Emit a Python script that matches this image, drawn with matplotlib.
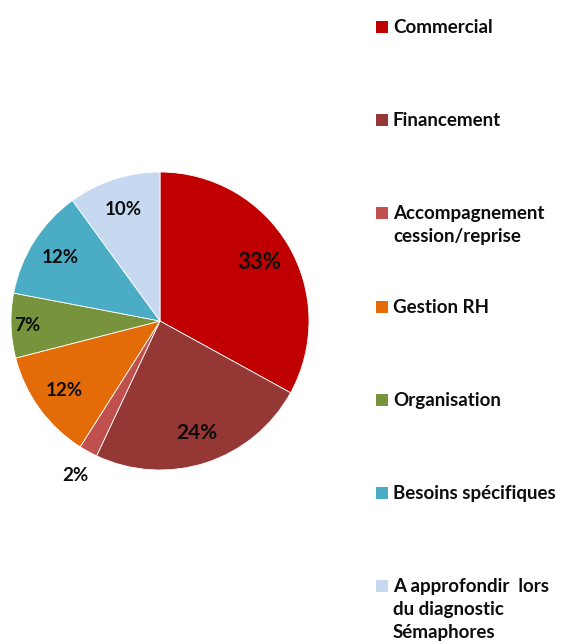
import matplotlib
matplotlib.use("Agg")
import matplotlib.pyplot as plt
import numpy as np
from matplotlib.patches import Rectangle

categories = ["Commercial", "Financement", "Accompagnement\ncession/reprise",
              "Gestion RH", "Organisation", "Besoins spécifiques",
              "A approfondir  lors\ndu diagnostic\nSémaphores"]
values = [33, 24, 2, 12, 7, 12, 10]
colors = ["#C00000", "#953735", "#C0504D", "#E36C09", "#77933C", "#4BACC6", "#C6D9F1"]
label_dist = [0.77, 0.79, 1.18, 0.79, 0.89, 0.79, 0.79]
label_size = [16, 15, 13.5, 13.5, 13.5, 13.5, 13.5]

plt.rcParams['font.family'] = ['Lato', 'DejaVu Sans']
W, H = 566, 644
fig = plt.figure(figsize=(W / 100, H / 100), dpi=100)

cx, cy, r = 160, 321, 149
ax = fig.add_axes([(cx - r) / W, (H - cy - r) / H, 2 * r / W, 2 * r / H])
wedges, _ = ax.pie(values, colors=colors, startangle=90, counterclock=False,
                   wedgeprops=dict(edgecolor="white", linewidth=0.6))
ax.set_xlim(-1, 1)
ax.set_ylim(-1, 1)
ax.set_aspect("equal")
ax.axis("off")

for w, v, d, s in zip(wedges, values, label_dist, label_size):
    ang = np.deg2rad((w.theta1 + w.theta2) / 2)
    ax.text(d * np.cos(ang), d * np.sin(ang), f"{v}%", ha="center", va="center",
            fontsize=s, fontweight="bold", color="#0d0d0d", clip_on=False)

for i, (c, col) in enumerate(zip(categories, colors)):
    yc = 27 + i * 93.2
    fig.add_artist(Rectangle((376 / W, (H - yc - 6) / H), 12 / W, 12 / H,
                             transform=fig.transFigure, facecolor=col, edgecolor="none"))
    for k, line in enumerate(c.split("\n")):
        fig.text(393 / W, (H - yc - 6 - k * 23) / H, line, ha="left", va="baseline",
                 fontsize=13.5, fontweight="bold", color="#0d0d0d")

fig.savefig("out.png", dpi=100)
